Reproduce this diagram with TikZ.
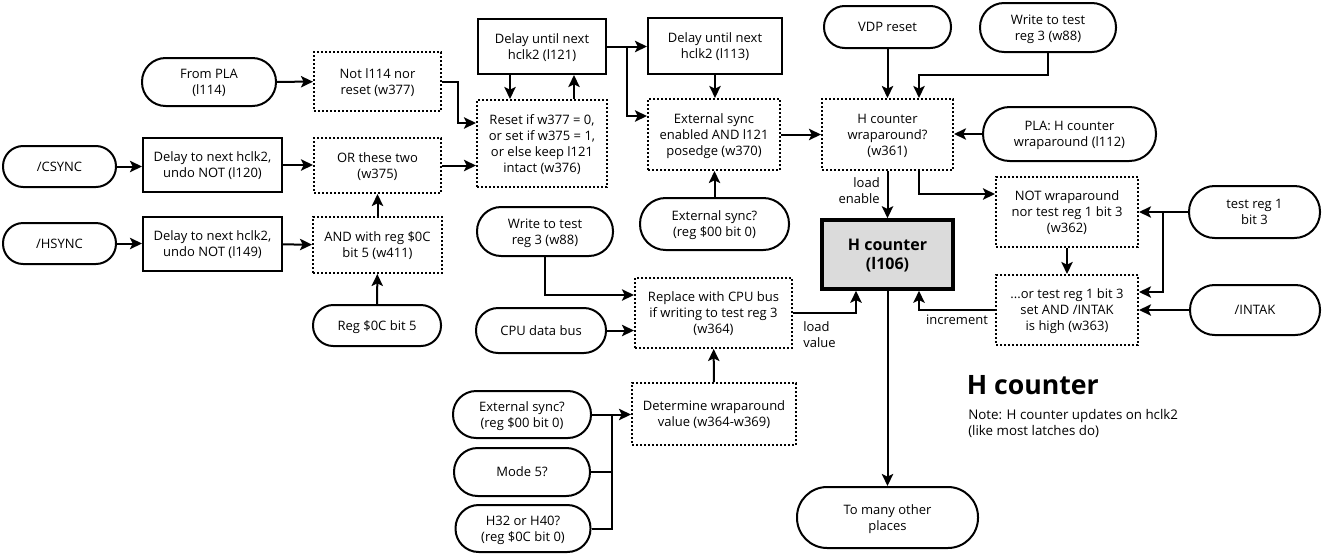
\documentclass[tikz,border=0pt]{standalone}
\usepackage{fontspec}
\setmainfont{Open Sans}
\usetikzlibrary{arrows.meta}
\begin{document}
\begin{tikzpicture}[x=0.75pt,y=-0.75pt,
  every node/.style={font=\fontsize{9.75}{12}\selectfont, align=center, inner sep=1pt},
  sz/.style 2 args={minimum width={#1*0.75pt}, minimum height={#2*0.75pt}},
  txt/.style={text depth=-1.9pt},
  pill/.style 2 args={draw, line width=1.5pt, sz={#1}{#2}, txt, rounded corners={#2*0.37pt}},
  solidbox/.style 2 args={draw, line width=1.5pt, sz={#1}{#2}, txt},
  dotbox/.style 2 args={draw, line width=1.5pt, dash pattern=on 1.5pt off 1.5pt, sz={#1}{#2}, txt},
  mainbox/.style 2 args={draw, line width=2.6pt, fill=black!14, sz={#1}{#2}, text depth=-2.6pt,
    font=\bfseries\fontsize{12}{14.25}\selectfont},
  lbl/.style={inner sep=0pt},
  arr/.style={line width=1.5pt, -{Stealth[length=9pt, width=8.5pt, inset=2pt]}},
  wire/.style={line width=1.5pt}]
\useasboundingbox (0,0) rectangle (1323,554);

% ---- left column: sync inputs
\node[pill={134}{48}]      (frompla) at (209,82)    {From PLA\\(l114)};
\node[dotbox={127}{59}]    (w377)    at (377.5,81.5) {Not l114 nor\\reset (w377)};
\node[pill={113}{41}]      (csync)   at (59.5,166.5) {/CSYNC};
\node[solidbox={139}{54}]  (l120)    at (212.5,165) {Delay to next hclk2,\\undo NOT (l120)};
\node[dotbox={127}{55}]    (w375)    at (377.5,165.5) {OR these two\\(w375)};
\node[pill={113}{41}]      (hsync)   at (59.5,243.5) {/HSYNC};
\node[solidbox={139}{54}]  (l149)    at (212.5,244) {Delay to next hclk2,\\undo NOT (l149)};
\node[dotbox={129}{56}]    (w411)    at (377.5,245) {AND with reg \$0C\\bit 5 (w411)};
\node[pill={128}{41}]      (reg0c)   at (377,325.5) {Reg \$0C bit 5};

% ---- external sync latch
\node[solidbox={128}{55}]  (l121)    at (542,46.5) {Delay until next\\hclk2 (l121)};
\node[dotbox={130}{87}]    (w376)    at (542,143.5) {Reset if w377 = 0,\\or set if w375 = 1,\\or else keep l121\\intact (w376)};
\node[solidbox={134}{56}]  (l113)    at (715,46) {Delay until next\\hclk2 (l113)};
\node[dotbox={132}{71}]    (w370)    at (714,134.5) {External sync\\enabled AND l121\\posedge (w370)};
\node[pill={149}{52}]      (ext1)    at (714.5,224) {External sync?\\(reg \$00 bit 0)};

% ---- load value path
\node[pill={136}{49}]      (wr1)     at (545,231.5) {Write to test\\reg 3 (w88)};
\node[pill={130}{45}]      (cpubus)  at (541,330.5) {CPU data bus};
\node[dotbox={157}{70}]    (w364)    at (713.5,313) {Replace with CPU bus\\if writing to test reg 3\\(w364)};
\node[dotbox={164}{62}]    (wrap)    at (714,414) {Determine wraparound\\value (w364-w369)};
\node[pill={138}{47}]      (ext2)    at (522,414.5) {External sync?\\(reg \$00 bit 0)};
\node[pill={136}{48}]      (mode5)   at (522,472) {Mode 5?};
\node[pill={135}{47}]      (h32)     at (523,528.5) {H32 or H40?\\(reg \$0C bit 0)};

% ---- wraparound / increment control
\node[pill={127}{42}]      (vdp)     at (887.5,27) {VDP reset};
\node[pill={136}{49}]      (wr2)     at (1048,27.5) {Write to test\\reg 3 (w88)};
\node[dotbox={131}{71}]    (w361)    at (887.5,134.5) {H counter\\wraparound?\\(w361)};
\node[pill={173}{54}]      (l112)    at (1069.5,134) {PLA: H counter\\wraparound (l112)};
\node[dotbox={142}{70}]    (w362)    at (1067,212) {NOT wraparound\\nor test reg 1 bit 3\\(w362)};
\node[pill={131}{52}]      (treg1)   at (1254.5,212) {test reg 1\\bit 3};
\node[dotbox={142}{70}]    (w363)    at (1067,310) {...or test reg 1 bit 3\\set AND /INTAK\\is high (w363)};
\node[pill={130}{50}]      (intak)   at (1255,310) {/INTAK};

% ---- the counter itself
\node[mainbox={131}{69}]   (hc)      at (887.5,254.5) {H counter\\(l106)};
\node[pill={181}{61}]      (many)    at (887.5,517.5) {To many other\\places};

% ---- title and note
\node[lbl, anchor=base west, font=\bfseries\fontsize{20}{24}\selectfont] (title) at (966.5,394) {H counter};
\node[lbl, anchor=west, align=left, font=\fontsize{10}{12}\selectfont] (note) at (968,423)
  {Note: H counter updates on hclk2\\(like most latches do)};

% ---- connector labels
\node[lbl, anchor=east, align=right] (lden)  at (880,191) {load\\enable};
\node[lbl, anchor=west, align=left]  (ldval) at (803,335) {load\\value};
\node[lbl] (incr) at (957,320) {increment};

% ---- bend points
\coordinate (j1) at (458,123);
\coordinate (j2) at (627,116);
\coordinate (xa) at (510,0);
\coordinate (xb) at (574,0);
\coordinate (j3) at (919,75);
\coordinate (j4) at (919,194);
\coordinate (j5) at (1163,292);
\coordinate (j6) at (919,310);
\coordinate (j7) at (856,313);
\coordinate (j8) at (545,295);
\coordinate (j9) at (612,414.5);

% ---- connectors
\draw[arr] (frompla) -- (w377);
\draw[arr] (csync) -- (csync -| l120.west);
\draw[arr] (l120) -- (l120 -| w375.west);
\draw[arr] (hsync) -- (hsync -| l149.west);
\draw[arr] (l149) -- (w411);
\draw[arr] (reg0c) -- (w411);
\draw[arr] (w411) -- (w375);
\draw[arr] (w377.east) -| (j1) -- (j1 -| w376.west);
\draw[arr] (w375.east) -- (w375.east -| w376.west);
\draw[arr] (xa |- l121.south) -- (xa |- w376.north);
\draw[arr] (xb |- w376.north) -- (xb |- l121.south);
\draw[arr] (l121.east) -- (l121.east -| l113.west);
\draw[arr] (l121.east -| j2) -- (j2) -- (j2 -| w370.west);
\draw[arr] (l113) -- (l113 |- w370.north);
\draw[arr] (ext1) -- (ext1 |- w370.south);
\draw[arr] (w370) -- (w361);
\draw[arr] (vdp) -- (w361);
\draw[arr] (wr2.south) |- (j3) -- (j3 |- w361.north);
\draw[arr] (l112) -- (l112 -| w361.east);
\draw[arr] (w361) -- (hc);
\draw[arr] (j4 |- w361.south) -- (j4) -- (j4 -| w362.west);
\draw[arr] (treg1) -- (treg1 -| w362.east);
\draw[arr] (treg1.west -| j5) -- (j5) -- (j5 -| w363.east);
\draw[arr] (intak) -- (intak -| w363.east);
\draw[arr] (w362.south -| w363.north) -- (w363.north);
\draw[arr] (w363.west) -- (j6) -- (j6 |- hc.south);
\draw[arr] (w364.east |- j7) -- (j7) -- (j7 |- hc.south);
\draw[arr] (hc) -- (many);
\draw[arr] (wr1.south -| j8) -- (j8) -- (j8 -| w364.west);
\draw[arr] (cpubus) -- (cpubus -| w364.west);
\draw[arr] (wrap) -- (w364);
\draw[wire] (mode5.east) -- (mode5.east -| j9);
\draw[wire] (h32.east) -| (j9);
\draw[arr] (ext2.east) -- (j9) -- (j9 -| wrap.west);
\end{tikzpicture}
\end{document}
